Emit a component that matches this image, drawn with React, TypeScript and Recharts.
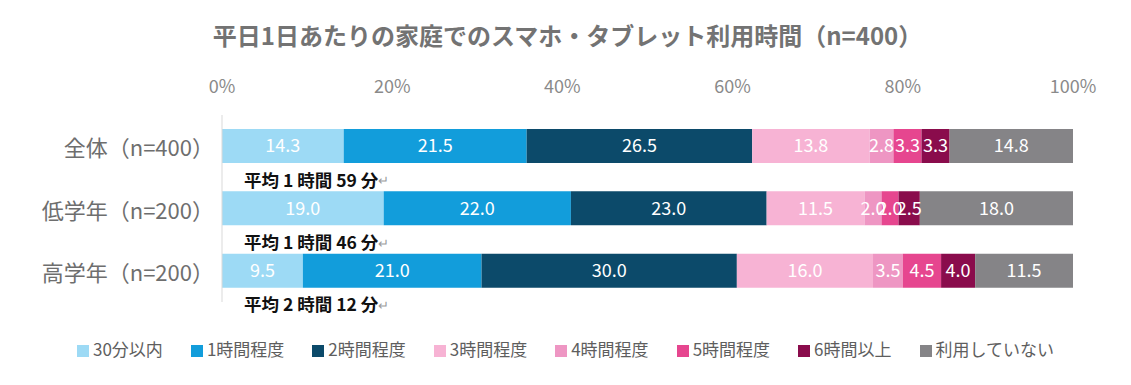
import { BarChart, Bar, XAxis, YAxis, Legend, LabelList } from "recharts";

const groups = ["全体（n=400）", "低学年（n=200）", "高学年（n=200）"];
const averages = ["平均 1 時間 59 分", "平均 1 時間 46 分", "平均 2 時間 12 分"];

const seriesNames = [
  "30分以内",
  "1時間程度",
  "2時間程度",
  "3時間程度",
  "4時間程度",
  "5時間程度",
  "6時間以上",
  "利用していない",
];
const seriesColors = [
  "#9ddaf5",
  "#129ddb",
  "#0c4a6a",
  "#f7b3d4",
  "#ee96c3",
  "#e6468f",
  "#8a0c4c",
  "#858487",
];

const within30 = [14.3, 19.0, 9.5];
const hour1 = [21.5, 22.0, 21.0];
const hour2 = [26.5, 23.0, 30.0];
const hour3 = [13.8, 11.5, 16.0];
const hour4 = [2.8, 2.0, 3.5];
const hour5 = [3.3, 2.0, 4.5];
const hour6plus = [3.3, 2.5, 4.0];
const notUsed = [14.8, 18.0, 11.5];

const seriesValues = [within30, hour1, hour2, hour3, hour4, hour5, hour6plus, notUsed];
const xTicks = [0, 20, 40, 60, 80, 100];

const data = groups.map((g, i) => {
  const row: Record<string, string | number> = { group: g };
  seriesValues.forEach((vals, s) => {
    row[`s${s}`] = vals[i];
  });
  return row;
});

const FONT = "'Noto Sans CJK JP', 'Noto Sans', sans-serif";

const GroupTick = ({ x, y, payload, index }: any) => (
  <g>
    <text
      x={x - 8}
      y={y}
      textAnchor="end"
      dominantBaseline="central"
      fontSize={22}
      fill="#6e6e6e"
      fontFamily={FONT}
    >
      {payload.value}
    </text>
    <text
      x={x + 22}
      y={y + 33}
      dominantBaseline="central"
      fontSize={17.5}
      fontWeight="bold"
      fill="#111"
      fontFamily={FONT}
    >
      {averages[index]}
      <tspan fill="#9a9a9a" fontWeight="normal" fontSize={13}>
        ↵
      </tspan>
    </text>
  </g>
);

const App = () => {
  return (
    <div style={{ position: "relative", width: 1131, height: 385, fontFamily: FONT }}>
      <style>{`body{margin:0}`}</style>
      <div
        style={{
          position: "absolute",
          top: 18,
          left: 0,
          width: 1131,
          textAlign: "center",
          fontSize: 24,
          fontWeight: "bold",
          color: "#737373",
          lineHeight: "34px",
          paddingLeft: 2,
        }}
      >
        平日1日あたりの家庭でのスマホ・タブレット利用時間（n=400）
      </div>
      <BarChart
        width={1131}
        height={385}
        data={data}
        layout="vertical"
        margin={{ top: 70, right: 58, bottom: 58, left: 0 }}
        barSize={34}
      >
        <XAxis
          type="number"
          orientation="top"
          domain={[0, 100]}
          allowDataOverflow
          ticks={xTicks}
          tickFormatter={(v) => `${v}%`}
          axisLine={false}
          tickLine={false}
          tickMargin={16}
          height={45}
          tick={{ fontSize: 18, fill: "#8a8a8a", fontFamily: FONT }}
        />
        <YAxis
          type="category"
          dataKey="group"
          width={222}
          axisLine={{ stroke: "#d9d9d9" }}
          tickLine={false}
          tickSize={0}
          tickMargin={0}
          tick={<GroupTick />}
        />
        <Legend
          verticalAlign="bottom"
          iconType="square"
          iconSize={12}
          itemSorter="dataKey"
          wrapperStyle={{ fontSize: 17, fontFamily: FONT, top: 336, left: 14, width: 1131 }}
          formatter={(value) => (
            <span style={{ color: "#5e5e5e", marginRight: 18 }}>{value}</span>
          )}
        />
        {seriesNames.map((name, s) => (
          <Bar
            key={name}
            dataKey={`s${s}`}
            name={name}
            stackId="a"
            fill={seriesColors[s]}
            isAnimationActive={false}
          >
            <LabelList
              dataKey={`s${s}`}
              position="center"
              formatter={(v: any) => Number(v).toFixed(1)}
              fill="#ffffff"
              fontSize={18}
              fontFamily={FONT}
            />
          </Bar>
        ))}
      </BarChart>
    </div>
  );
};

export default App;
